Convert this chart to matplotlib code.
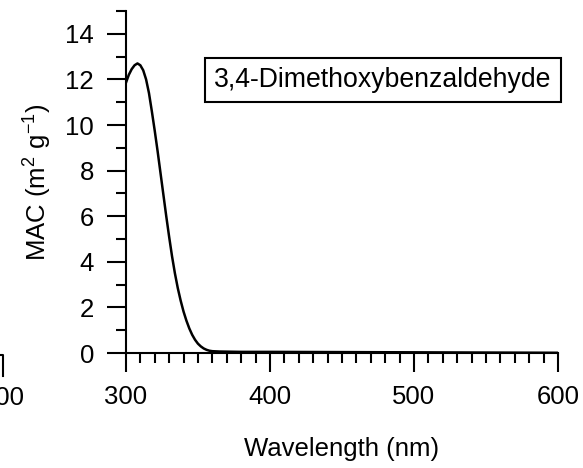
import matplotlib
matplotlib.use("Agg")
import matplotlib.pyplot as plt
from matplotlib.ticker import MultipleLocator
from matplotlib.lines import Line2D

plt.rcParams["font.family"] = ["Liberation Sans", "DejaVu Sans"]
plt.rcParams["mathtext.default"] = "regular"

# absorption spectrum
wavelength = [300, 302, 304, 306, 308, 310, 312, 314, 316, 318, 320, 322, 324,
              326, 328, 330, 332, 334, 336, 338, 340, 342, 344, 346, 348, 350,
              352, 354, 356, 358, 360, 365, 370, 380, 400, 450, 500, 550, 600]
mac = [11.85, 12.2, 12.45, 12.62, 12.7, 12.62, 12.4, 12.0, 11.4, 10.6, 9.75,
       8.85, 7.9, 6.95, 6.0, 5.1, 4.25, 3.5, 2.85, 2.3, 1.82, 1.42, 1.08, 0.8,
       0.58, 0.41, 0.29, 0.2, 0.14, 0.1, 0.08, 0.065, 0.06, 0.05, 0.05, 0.04,
       0.03, 0.02, 0.01]
compound = "3,4-Dimethoxybenzaldehyde"

fig = plt.figure(figsize=(5.83, 4.68), dpi=100)
ax = fig.add_axes([0.216, 0.2457, 0.741, 0.7308])

ax.plot(wavelength, mac, color="black", lw=1.8)

ax.set_xlim(300, 600)
ax.set_ylim(0, 15)
ax.xaxis.set_major_locator(MultipleLocator(100))
ax.xaxis.set_minor_locator(MultipleLocator(10))
ax.yaxis.set_major_locator(MultipleLocator(2))
ax.yaxis.set_minor_locator(MultipleLocator(1))

for side in ["top", "right"]:
    ax.spines[side].set_visible(False)
for side in ["left", "bottom"]:
    ax.spines[side].set_linewidth(1.5)

ax.tick_params(which="major", direction="out", length=14, width=1.5,
               labelsize=18.5, pad=9)
ax.tick_params(which="minor", direction="out", length=7.5, width=1.5)

ax.set_xlabel("Wavelength (nm)", fontsize=18.5, labelpad=20)
ax.set_ylabel("MAC (m$^{2}$ g$^{-1}$)", fontsize=18.5, labelpad=8)

ax.text(0.985, 0.798, compound, transform=ax.transAxes, ha="right",
        va="center", fontsize=19.2,
        bbox=dict(boxstyle="square,pad=0.35", fc="white", ec="black", lw=1.5))

# edge of the neighbouring panel
fig.add_artist(Line2D([0, 0.006, 0.006], [0.2415, 0.2415, 0.196],
                      transform=fig.transFigure, color="black", lw=1.5))
fig.text(0.006, 0.15, "600", ha="center", va="center", fontsize=18.5)

fig.savefig("out.png", dpi=100)
